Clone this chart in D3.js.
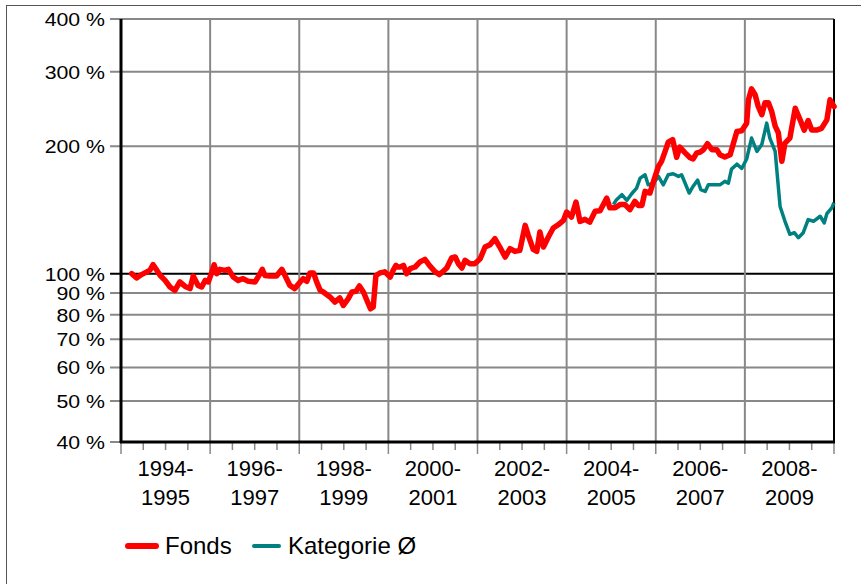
<!DOCTYPE html>
<html>
<head>
<meta charset="utf-8">
<script src="https://cdn.jsdelivr.net/npm/d3@7"></script>
<style>
  body { margin: 0; background: #fff; }
  svg { display: block; font-family: "Liberation Sans", Arial, sans-serif; }
</style>
</head>
<body>
<svg id="chart" width="861" height="584"></svg>
<script>
// values (decimal years, % of start value)
const fondsYears = [
  1994.24, 1994.35, 1994.46, 1994.58, 1994.65, 1994.72, 1994.80, 1994.88, 1994.99,
  1995.10, 1995.21, 1995.32, 1995.44, 1995.55, 1995.62, 1995.73, 1995.81, 1995.89, 1995.96,
  1996.04, 1996.09, 1996.15, 1996.22, 1996.33, 1996.41, 1996.52, 1996.63, 1996.74, 1996.86,
  1997.01, 1997.12, 1997.17, 1997.23, 1997.34, 1997.49, 1997.61, 1997.68, 1997.79, 1997.90,
  1998.02, 1998.09, 1998.17, 1998.24, 1998.32, 1998.39, 1998.47, 1998.54, 1998.69, 1998.80, 1998.91, 1998.99,
  1999.10, 1999.18, 1999.27, 1999.35, 1999.44, 1999.55, 1999.60, 1999.66, 1999.72, 1999.81, 1999.92,
  2000.04, 2000.11, 2000.17, 2000.22, 2000.26, 2000.34, 2000.41, 2000.49, 2000.60, 2000.71, 2000.82, 2000.93,
  2001.05, 2001.14, 2001.23, 2001.31, 2001.42, 2001.50, 2001.57, 2001.65, 2001.72, 2001.83, 2001.94,
  2002.06, 2002.17, 2002.28, 2002.39, 2002.50, 2002.62, 2002.73, 2002.84, 2002.95,
  2003.07, 2003.14, 2003.25, 2003.33, 2003.40, 2003.48, 2003.59, 2003.70, 2003.81, 2003.93,
  2004.00, 2004.11, 2004.21, 2004.30, 2004.41, 2004.52, 2004.64, 2004.75, 2004.86, 2004.90, 2004.97,
  2005.09, 2005.20, 2005.31, 2005.42, 2005.53, 2005.61, 2005.69, 2005.76, 2005.87, 2005.95,
  2006.06, 2006.13, 2006.21, 2006.28, 2006.38, 2006.47, 2006.54, 2006.66, 2006.77, 2006.84, 2006.92, 2006.99,
  2007.07, 2007.16, 2007.26, 2007.37, 2007.44, 2007.55, 2007.67, 2007.74, 2007.82, 2007.93,
  2008.04, 2008.08, 2008.15, 2008.23, 2008.30, 2008.38, 2008.45, 2008.53, 2008.60, 2008.68, 2008.75, 2008.83, 2008.90,
  2009.01, 2009.13, 2009.24, 2009.33, 2009.42, 2009.50, 2009.61, 2009.72, 2009.84, 2009.91, 2010.00
];
const fondsValues = [
  100, 97.7, 99.5, 101, 102, 105, 102, 99, 96.4,
  93, 91.3, 95.6, 93.3, 92.2, 98.7, 93.8, 93, 96.4, 95.6,
  101, 105, 100, 102.4, 101.8, 102.4, 98.2, 96.4, 97.3, 95.9,
  95.6, 100, 102.4, 99, 98.7, 98.7, 102.4, 99, 93.8, 92.2,
  95.6, 97.3, 95.9, 100.4, 100.4, 95.6, 91.3, 90.5, 88.1, 85.7, 87.6, 84.1,
  87.3, 90.5, 90.8, 93.5, 90.5, 84.9, 82.6, 83.4, 99, 100.4, 101,
  98.2, 102, 104.6, 103.7, 103.7, 104.6, 100, 102.8, 103.7, 106.6, 108.1, 104.3,
  101, 99.5, 101.3, 103.1, 108.9, 109.5, 105.6, 103.1, 107.5, 105.6, 105.6,
  108.5, 115.6, 117.1, 121, 115.6, 109.5, 114.6, 112.9, 113.5,
  130.1, 123.2, 114.1, 112.9, 125.5, 115.6, 122.1, 128.2, 130.5, 133.7,
  139.9, 136.1, 147.7, 132.9, 134.4, 132.4, 140.4, 140.8, 148.2, 150.9, 143.1,
  143.1, 145.7, 145.7, 141.7, 148.2, 145, 145, 156.5, 155.1, 165.3,
  179.3, 184.3, 194.6, 204.5, 207.4, 188.4, 199.2, 193, 188, 186.8, 193, 193.6,
  196.4, 202.9, 196.4, 196.4, 191.1, 188.7, 191.1, 202.9, 216.9, 217.7,
  226.9, 257.6, 273.5, 264.9, 248.4, 237.6, 253.4, 253.4, 242.2, 223.3, 215.4, 184.3, 203.6,
  209.2, 246.1, 231, 218.5, 230.1, 218.5, 218.5, 220.5, 231, 257.6, 248.4
];

const kategorieYears = [
  2005.05, 2005.12, 2005.24, 2005.35, 2005.46, 2005.57, 2005.65, 2005.76, 2005.83, 2005.95,
  2006.06, 2006.17, 2006.28, 2006.39, 2006.51, 2006.58, 2006.66, 2006.75, 2006.84, 2006.94,
  2007.01, 2007.11, 2007.18, 2007.29, 2007.44, 2007.55, 2007.63, 2007.70, 2007.82, 2007.93,
  2008.04, 2008.15, 2008.27, 2008.38, 2008.49, 2008.56, 2008.68, 2008.79, 2008.90,
  2009.01, 2009.11, 2009.20, 2009.31, 2009.42, 2009.54, 2009.69, 2009.78, 2009.84, 2009.95, 2010.00
];
const kategorieValues = [
  145.7, 149.6, 153.7, 149, 154.5, 159.3, 168.2, 171.3, 162.2, 163.6,
  169.8, 162.2, 171.3, 172.3, 169.8, 171.3, 163.6, 155.1, 161, 166.4,
  158.1, 156.5, 162.2, 162.2, 162.2, 165.3, 163.6, 176.7, 181.5, 177.3,
  186.7, 209.2, 194.6, 202, 226.9, 209.2, 194.6, 144.2, 133,
  123.9, 125, 121.6, 125, 134.2, 133, 136.7, 131.8, 138.6, 143.1, 147.1
];

const yTicks = [40, 50, 60, 70, 80, 90, 100, 200, 300, 400];
const periodStarts = [1994, 1996, 1998, 2000, 2002, 2004, 2006, 2008];
const seriesNames = ['Fonds', 'Kategorie Ø'];

const plotLeft = 121, plotRight = 834, plotTop = 19, plotBottom = 442;

const svg = d3.select('#chart');

const x = d3.scaleLinear().domain([1994, 2010]).range([plotLeft, plotRight]);
const y = d3.scaleLog().domain([40, 400]).range([plotBottom, plotTop]);

// outer frame
svg.append('rect')
  .attr('x', 6.5).attr('y', 5.5)
  .attr('width', 900).attr('height', 600)
  .attr('fill', 'none')
  .attr('stroke', '#555')
  .attr('stroke-width', 1);

// horizontal grid + y ticks
svg.selectAll('.hgrid')
  .data(yTicks)
  .enter()
  .append('line')
  .attr('x1', plotLeft - 11)
  .attr('x2', plotRight)
  .attr('y1', (d) => y(d))
  .attr('y2', (d) => y(d))
  .attr('stroke', (d) => (d === 100 ? '#000' : '#888'))
  .attr('stroke-width', 2);

// vertical grid
svg.selectAll('.vgrid')
  .data(periodStarts.slice(1))
  .enter()
  .append('line')
  .attr('x1', (d) => x(d))
  .attr('x2', (d) => x(d))
  .attr('y1', plotTop)
  .attr('y2', plotBottom)
  .attr('stroke', '#888')
  .attr('stroke-width', 2);

// x ticks every half year
const halfYears = d3.range(1994, 2010.01, 0.5);
svg.selectAll('.xtick')
  .data(halfYears)
  .enter()
  .append('line')
  .attr('x1', (d) => x(d))
  .attr('x2', (d) => x(d))
  .attr('y1', plotBottom)
  .attr('y2', (d) => (d % 2 === 0 ? plotBottom + 12 : plotBottom + 8))
  .attr('stroke', '#888')
  .attr('stroke-width', 1.5);

// y labels (slightly wide glyphs like the reference)
svg.selectAll('.ylabel')
  .data(yTicks)
  .enter()
  .append('text')
  .attr('x', 105)
  .attr('y', (d) => y(d))
  .attr('dy', '0.36em')
  .attr('text-anchor', 'end')
  .attr('fill', '#000')
  .style('font-size', '19px')
  .text((d) => `${d} %`)
  .each(function () {
    const w = this.getComputedTextLength();
    d3.select(this)
      .attr('textLength', w * 1.12)
      .attr('lengthAdjust', 'spacingAndGlyphs');
  });

// x labels (two lines per period)
const xl = svg.selectAll('.xlabel')
  .data(periodStarts)
  .enter()
  .append('text')
  .attr('text-anchor', 'middle')
  .attr('fill', '#000')
  .style('font-size', '22px');
xl.append('tspan')
  .attr('x', (d) => x(d + 1))
  .attr('y', 476)
  .text((d) => `${d}-`);
xl.append('tspan')
  .attr('x', (d) => x(d + 1))
  .attr('y', 505)
  .text((d) => `${d + 1}`);

// axes frame
svg.append('line')
  .attr('x1', plotRight).attr('x2', plotRight)
  .attr('y1', plotTop).attr('y2', plotBottom)
  .attr('stroke', '#000').attr('stroke-width', 2);
svg.append('line')
  .attr('x1', plotLeft).attr('x2', plotLeft)
  .attr('y1', plotTop).attr('y2', plotBottom + 1)
  .attr('stroke', '#000').attr('stroke-width', 3);
svg.append('line')
  .attr('x1', plotLeft - 1).attr('x2', plotRight + 1)
  .attr('y1', plotBottom).attr('y2', plotBottom)
  .attr('stroke', '#000').attr('stroke-width', 3);

// series
const line = d3.line()
  .x((d) => x(d[0]))
  .y((d) => y(d[1]));

svg.append('path')
  .datum(d3.zip(kategorieYears, kategorieValues))
  .attr('d', line)
  .attr('fill', 'none')
  .attr('stroke', '#008080')
  .attr('stroke-width', 3.5)
  .attr('stroke-linejoin', 'round');

svg.append('path')
  .datum(d3.zip(fondsYears, fondsValues))
  .attr('d', line)
  .attr('fill', 'none')
  .attr('stroke', '#ff0000')
  .attr('stroke-width', 5.5)
  .attr('stroke-linejoin', 'round')
  .attr('stroke-linecap', 'round');

// legend
const legend = [
  { name: seriesNames[0], color: '#ff0000', width: 6, x1: 128, x2: 156, tx: 165 },
  { name: seriesNames[1], color: '#008080', width: 4, x1: 254, x2: 279, tx: 288 }
];
const lg = svg.selectAll('.legend')
  .data(legend)
  .enter()
  .append('g');
lg.append('line')
  .attr('x1', (d) => d.x1)
  .attr('x2', (d) => d.x2)
  .attr('y1', 546)
  .attr('y2', 546)
  .attr('stroke', (d) => d.color)
  .attr('stroke-width', (d) => d.width)
  .attr('stroke-linecap', 'round');
lg.append('text')
  .attr('x', (d) => d.tx)
  .attr('y', 554)
  .attr('fill', '#000')
  .style('font-size', '24px')
  .text((d) => d.name);
</script>
</body>
</html>
